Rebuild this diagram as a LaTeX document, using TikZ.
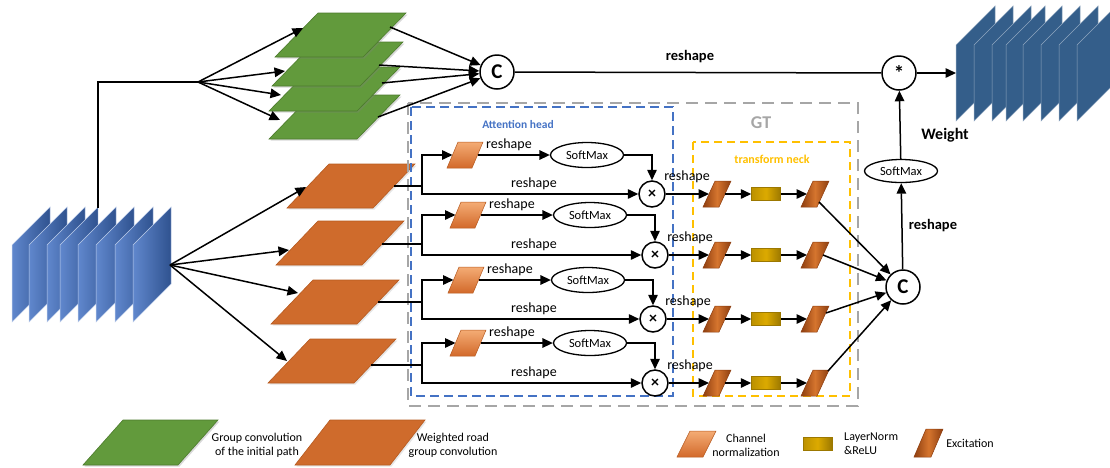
\documentclass[tikz,border=0pt]{standalone}
\usepackage{fontspec}
\setmainfont{Carlito}
\usetikzlibrary{arrows.meta,calc,shadows,shapes.geometric}

\definecolor{inblue}{HTML}{4472C4}
\definecolor{inblueD}{HTML}{2F528F}
\definecolor{outblue}{HTML}{345E8A}
\definecolor{grn}{HTML}{629A3C}
\definecolor{grnD}{HTML}{4C7A2C}
\definecolor{org}{HTML}{CF6B2C}
\definecolor{orgD}{HTML}{B65A20}
\definecolor{cnL}{HTML}{F4AC75}
\definecolor{cnD}{HTML}{D2692A}
\definecolor{exL}{HTML}{D5752E}
\definecolor{exD}{HTML}{8E3E10}
\definecolor{lnM}{HTML}{DCAA00}
\definecolor{lnD}{HTML}{9C7800}
\definecolor{gtgray}{HTML}{A6A6A6}
\definecolor{ahblue}{HTML}{4472C4}
\definecolor{tnyel}{HTML}{FFC000}

% slanted horizontal sheet: style, bottom-left x, y, width, height, slant
\newcommand\plane[6]{\path[#1] (#2,#3) -- ++(#4,0) -- ++(#6,-#5) -- ++(-#4,0) -- cycle;}
% upright sheet seen edge-on: style, bottom-left x, y, height, depth dx, depth dy
\newcommand\vplane[6]{\path[#1] (#2,#3) -- ++(0,-#4) -- ++(#5,-#6) -- ++(0,#4) -- cycle;}

\begin{document}
\begin{tikzpicture}[x=1pt,y=-1pt,
  line/.style={line width=1.5pt, black},
  arr/.style={line, -{Triangle[length=10.5pt,width=9.5pt]}},
  lbl/.style={font=\fontsize{14}{15}\selectfont, inner sep=0pt},
  blbl/.style={font=\fontsize{14.5}{16}\selectfont\bfseries, inner sep=0pt},
  leg/.style={font=\fontsize{12}{14}\selectfont, inner sep=0pt, align=center},
  opc/.style={circle, draw, line width=1.5pt, fill=white, minimum size=34pt, inner sep=0pt,
    font=\fontsize{21}{21}\selectfont\bfseries},
  mul/.style={circle, draw, line width=1.5pt, fill=white, minimum size=26pt, inner sep=0pt,
    font=\fontsize{16}{16}\selectfont\bfseries},
  sm/.style={ellipse, draw, line width=1.3pt, fill=white, minimum width=73pt, minimum height=25pt,
    inner sep=0pt, font=\fontsize{12.5}{13}\selectfont},
  lnbox/.style={rectangle, draw=lnD, line width=0.5pt, minimum width=29pt, minimum height=13pt,
    inner sep=0pt, left color=lnD!50!lnM, right color=lnD, middle color=lnM},
  insheet/.style={left color=inblue!85!white, right color=inblueD, draw=inblue!35!white, line width=0.5pt},
  outsheet/.style={fill=outblue, draw=outblue!55!white, line width=0.5pt},
  grsheet/.style={fill=grn, draw=grnD, line width=0.6pt,
    drop shadow={shadow xshift=1.5pt, shadow yshift=-1.5pt, opacity=0.3}},
  orsheet/.style={fill=org, draw=orgD, line width=0.6pt,
    drop shadow={shadow xshift=1.5pt, shadow yshift=-1.5pt, opacity=0.2}},
  cnsheet/.style={top color=cnL, bottom color=cnD, draw=orgD, line width=0.5pt},
  exsheet/.style={left color=exD, right color=exD, middle color=exL, draw=exD, line width=0.5pt},
  gtbox/.style={draw=gtgray, line width=1.3pt, dash pattern=on 12pt off 7pt},
  ahbox/.style={draw=ahblue, line width=1.2pt, dash pattern=on 9pt off 5pt},
  tnbox/.style={draw=tnyel, line width=1.2pt, dash pattern=on 8pt off 5pt}]

\useasboundingbox (0,0) rectangle (1110,467);

% ---------- input feature maps ----------
\foreach \x in {12,29,47,60,78,96,115,133} {\vplane{insheet}{\x}{322}{77}{38}{38}}
\coordinate (intop) at (98,208);
\coordinate (fanG) at (198,82);
\coordinate (fanO) at (170,265);

% ---------- initial path: group convolutions ----------
\plane{grsheet}{269}{139}{88}{44}{43}
\plane{grsheet}{269}{111}{88}{44}{43}
\plane{grsheet}{272}{86}{88}{44}{43}
\plane{grsheet}{275}{57}{88}{44}{43}
\coordinate (gin1) at (303,28);
\coordinate (gin2) at (285,71);
\coordinate (gin3) at (281,95);
\coordinate (gin4) at (280,120);
\coordinate (gout1) at (390,27);
\coordinate (gout2) at (379,65);
\coordinate (gout3) at (382,83);
\coordinate (gout4) at (378,117);

% ---------- weighted road: group convolutions ----------
\plane{orsheet}{287}{208}{86}{44}{42}
\plane{orsheet}{276}{265}{86}{44}{42}
\plane{orsheet}{271}{324}{86}{44}{42}
\plane{orsheet}{268}{383}{86}{44}{42}
\coordinate (oin1) at (306,187);
\coordinate (oin2) at (289,250);
\coordinate (oin3) at (298,293);
\coordinate (oin4) at (287,361);

% ---------- GT frame ----------
\draw[gtbox] (408,103) rectangle (858,406);
\draw[ahbox] (411,107) rectangle (673,396);
\draw[tnbox] (693,142) rectangle (850,396);
\node[font=\fontsize{18}{18}\selectfont\bfseries, text=gtgray, inner sep=0pt] (gt) at (761,123) {GT};
\node[font=\fontsize{11.5}{12}\selectfont\bfseries, text=ahblue, inner sep=0pt] (ah) at (518,124) {Attention head};
\node[font=\fontsize{12}{12}\selectfont\bfseries, text=tnyel, inner sep=0pt] (tn) at (772,159) {transform neck};

% ---------- operators on the right ----------
\node[opc] (C1) at (497,72) {C};
\node[opc] (star) at (899,73) {\raisebox{-0.3em}{*}};
\node[opc] (C2) at (903,287) {C};
\node[sm, minimum height=23pt] (smo) at (901,171) {SoftMax};
\coordinate (outmap) at (956,73);

% ---------- output feature maps ----------
\begin{scope}
\clip (0,0) rectangle (1110,467);
\foreach \x in {956,974,992,1006,1023,1041,1059,1077} {\vplane{outsheet}{\x}{121}{76}{39}{39}}
\end{scope}

% ---------- attention heads and transform neck ----------
\foreach \T/\B/\I/\ox/\cx/\sx/\mx/\ex/\ey [count=\i] in
  {155/194/186/394/447/587/652/819/202,
   215/255/244/382/450/590/655/823/255,
   280/319/302/378/448/588/653/826/313,
   343/383/365/371/450/590/655/828/371}
{
  \plane{cnsheet}{\cx}{\T+13}{25}{26}{11}
  \coordinate (cnl\i) at (\cx+5.5,\T);
  \coordinate (cnr\i) at (\cx+30.5,\T);
  \coordinate (bt\i) at (422,\T);
  \coordinate (bi\i) at (422,\I);
  \coordinate (bb\i) at (422,\B);
  \coordinate (oout\i) at (\ox,\I);
  \node[sm] (sm\i) at (\sx,\T) {SoftMax};
  \node[mul] (mul\i) at (\mx,\B) {×};
  \plane{exsheet}{703}{\B+13}{16}{26}{12}
  \coordinate (e1l\i) at (709,\B);
  \coordinate (e1r\i) at (725,\B);
  \node[lnbox] (ln\i) at (766,\B) {};
  \plane{exsheet}{801}{\B+13}{16}{26}{12}
  \coordinate (e2l\i) at (807,\B);
  \coordinate (e2o\i) at (\ex,\ey);

  \draw[line] (oout\i) -- (bi\i);
  \draw[arr] (bi\i) -- (bt\i) -- (cnl\i);
  \draw[arr] (bi\i) -- (bb\i) -- (mul\i);
  \draw[arr] (cnr\i) -- (sm\i);
  \draw[arr] (sm\i.east) -| (mul\i);
  \draw[arr] (mul\i) -- (e1l\i);
  \draw[arr] (e1r\i) -- (ln\i);
  \draw[arr] (ln\i) -- (e2l\i);
  \draw[arr] (e2o\i) -- (C2);
  \node[lbl] (rs-a\i) at (\cx+62,\T-10) {reshape};
  \node[lbl] (rs-b\i) at (534,\B-10) {reshape};
  \node[lbl] (rs-c\i) at (\mx+35,\B-17) {reshape};
}

% ---------- connectors of the two paths ----------
\draw[line] (intop) |- (fanG);
\foreach \k in {1,...,4} {
  \draw[arr] (fanG) -- (gin\k);
  \draw[arr] (gout\k) -- (C1);
  \draw[arr] (fanO) -- (oin\k);
}
\draw[line] (C1) -- (star);
\node[blbl] (rs-top) at (690,57) {reshape};
\draw[arr] (star) -- (outmap);
\draw[arr] (C2) -- (smo);
\draw[arr] (smo) -- (star);
\node[blbl] (rs-right) at (933,226) {reshape};
\node[font=\fontsize{16}{16}\selectfont\bfseries, inner sep=0pt] (weight) at (945,135) {Weight};

% ---------- legend ----------
\plane{grsheet}{83}{465}{95}{45}{40}
\node[leg] (l1) at (257,445) {Group convolution\\of the initial path};
\plane{orsheet}{295}{465}{95}{45}{35}
\node[leg] (l2) at (453,445) {Weighted road\\group convolution};
\plane{cnsheet}{677}{457}{26}{26}{13}
\node[leg] (l3) at (746,445) {Channel\\normalization};
\node[lnbox] (l4box) at (817.5,443.5) {};
\node[leg, align=left, anchor=west] (l4) at (844,444) {LayerNorm\\\&ReLU};
\plane{exsheet}{914}{457}{17}{28}{12}
\node[leg] (l5) at (970,443) {Excitation};

\end{tikzpicture}
\end{document}
